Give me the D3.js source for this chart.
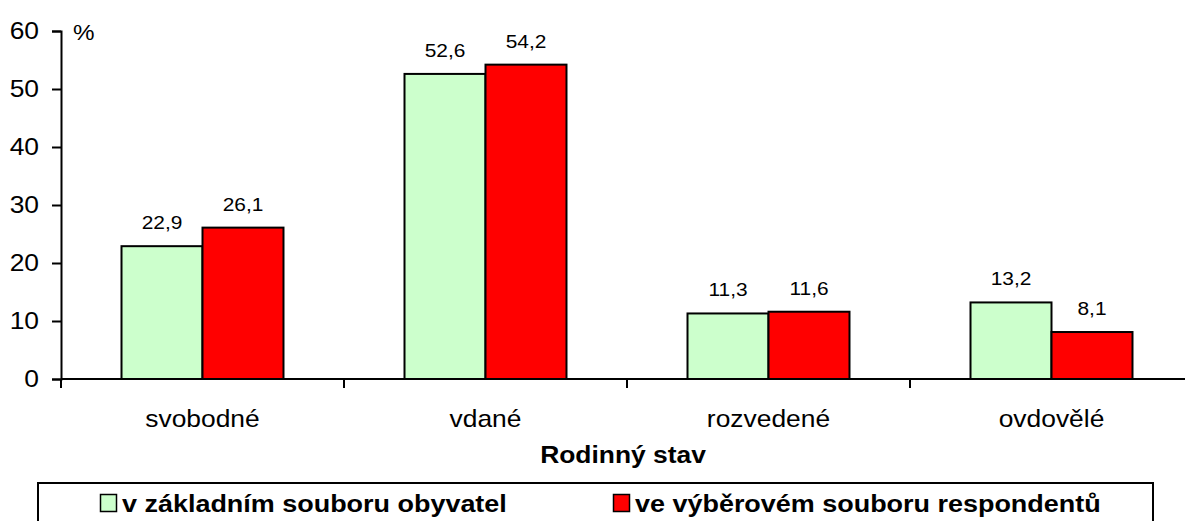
<!DOCTYPE html>
<html>
<head>
<meta charset="utf-8">
<script src="https://cdn.jsdelivr.net/npm/d3@7"></script>
<style>
  body { margin: 0; background: #fff; }
  svg { display: block; font-family: "Liberation Sans", Arial, sans-serif; }
</style>
</head>
<body>
<script>
  // data
  var categories = ["svobodné", "vdané", "rozvedené", "ovdovělé"];
  var seriesNames = ["v základním souboru obyvatel", "ve výběrovém souboru respondentů"];
  var zakladni = [22.9, 52.6, 11.3, 13.2];
  var vyberovy = [26.1, 54.2, 11.6, 8.1];
  var yTicks = [0, 10, 20, 30, 40, 50, 60];
  var colors = ["#ccffcc", "#ff0000"];

  var W = 1185, H = 521;
  var plotL = 61, plotR = 1193, plotT = 31, plotB = 379;
  var sx = 1.1; // the original text is a bit stretched sideways

  var svg = d3.select("body").append("svg")
    .attr("width", W)
    .attr("height", H);

  // text helper: place at (x,y) then stretch horizontally
  var place = function (sel, fx, fy) {
    sel.attr("transform", function (d, i) {
      return "translate(" + fx(d, i) + "," + fy(d, i) + ") scale(" + sx + ",1)";
    });
  };

  var y = d3.scaleLinear().domain([0, 60]).range([plotB, plotT]);

  var x0 = d3.scaleBand().domain(categories).range([plotL, plotR])
    .paddingInner(0.4276).paddingOuter(0.2138);
  var x1 = d3.scaleBand().domain([0, 1]).range([0, x0.bandwidth()]);
  var step = x0.step();

  // y axis
  var yAxis = svg.append("g")
    .attr("transform", "translate(" + plotL + ",0)")
    .call(d3.axisLeft(y).tickValues(yTicks).tickSize(9).tickFormat(d3.format("d")));
  yAxis.select(".domain").attr("stroke", "#000").attr("stroke-width", 2);
  yAxis.selectAll(".tick line").attr("stroke", "#000").attr("stroke-width", 2);
  yAxis.selectAll(".tick text").remove();

  var yl = svg.selectAll("text.ytick").data(yTicks).enter().append("text")
    .attr("class", "ytick")
    .attr("text-anchor", "end")
    .attr("dy", "0.35em")
    .attr("font-size", 24)
    .text(function (d) { return d; });
  place(yl, function () { return plotL - 22; }, function (d) { return y(d); });

  var pct = svg.append("text").attr("font-size", 22).text("%");
  place(pct, function () { return 73; }, function () { return 40; });

  // bars
  var rows = categories.map(function (c, i) { return { cat: c, vals: [zakladni[i], vyberovy[i]] }; });
  var groups = svg.selectAll("g.grp").data(rows).enter().append("g")
    .attr("class", "grp")
    .attr("transform", function (d) { return "translate(" + x0(d.cat) + ",0)"; });

  groups.selectAll("rect").data(function (d) { return d.vals; }).enter().append("rect")
    .attr("x", function (d, j) { return x1(j); })
    .attr("y", function (d) { return y(d); })
    .attr("width", x1.bandwidth())
    .attr("height", function (d) { return y(0) - y(d); })
    .attr("fill", function (d, j) { return colors[j]; })
    .attr("stroke", "#000")
    .attr("stroke-width", 2);

  var vl = groups.selectAll("text.val").data(function (d) { return d.vals; }).enter().append("text")
    .attr("class", "val")
    .attr("text-anchor", "middle")
    .attr("font-size", 19)
    .text(function (d) { return d3.format(".1f")(d).replace(".", ","); });
  place(vl, function (d, j) { return x1(j) + x1.bandwidth() / 2; }, function (d) { return y(d) - 17; });

  // x axis
  svg.append("line")
    .attr("x1", plotL).attr("x2", plotR)
    .attr("y1", y(0)).attr("y2", y(0))
    .attr("stroke", "#000").attr("stroke-width", 2);
  var bounds = categories.map(function (c) { return x0(c) - step * x0.paddingInner() / 2; });
  bounds.push(plotR);
  svg.selectAll("line.xtick").data(bounds).enter().append("line")
    .attr("class", "xtick")
    .attr("x1", function (d) { return d; }).attr("x2", function (d) { return d; })
    .attr("y1", y(0)).attr("y2", y(0) + 9)
    .attr("stroke", "#000").attr("stroke-width", 2);

  var cl = svg.selectAll("text.cat").data(categories).enter().append("text")
    .attr("class", "cat")
    .attr("text-anchor", "middle")
    .attr("font-size", 24)
    .text(function (d) { return d; });
  place(cl, function (d) { return x0(d) + x0.bandwidth() / 2; }, function () { return 427; });

  var ttl = svg.append("text")
    .attr("text-anchor", "middle")
    .attr("font-size", 24)
    .attr("font-weight", "bold")
    .text("Rodinný stav");
  place(ttl, function () { return 623; }, function () { return 463; });

  // legend
  svg.append("rect")
    .attr("x", 38).attr("y", 483)
    .attr("width", 1115).attr("height", 60)
    .attr("fill", "#fff").attr("stroke", "#000").attr("stroke-width", 2);

  var legX = [100, 613];
  var leg = svg.selectAll("g.leg").data(seriesNames).enter().append("g")
    .attr("class", "leg")
    .attr("transform", function (d, i) { return "translate(" + legX[i] + ",0)"; });
  leg.append("rect")
    .attr("x", 0.5).attr("y", 494.5)
    .attr("width", 16).attr("height", 17)
    .attr("fill", function (d, i) { return colors[i]; })
    .attr("stroke", "#000").attr("stroke-width", 1.5);
  var lt = leg.append("text")
    .attr("font-size", 24.5)
    .attr("font-weight", "bold")
    .text(function (d) { return d; });
  place(lt, function () { return 22; }, function () { return 512; });
</script>
</body>
</html>
